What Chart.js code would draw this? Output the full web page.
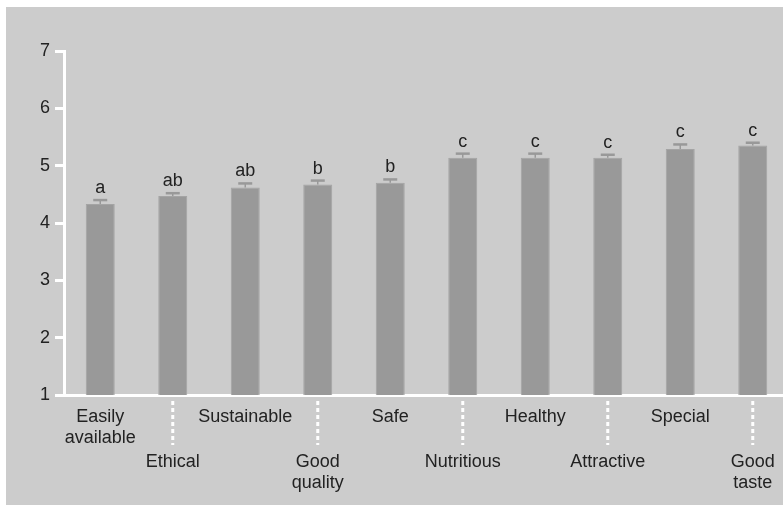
<!DOCTYPE html>
<html>
<head>
<meta charset="utf-8">
<script src="https://cdn.jsdelivr.net/npm/chart.js@4"></script>
<style>
  html, body { margin: 0; padding: 0; background: #fff; overflow: hidden; width: 783px; height: 505px; }
  #chart { position: absolute; left: 6px; top: 7px; background: #cccccc; }
</style>
</head>
<body>
<canvas id="chart" width="785" height="498"></canvas>
<script>
// attribute categories (two lines where the label wraps)
var categories = [
    ['Easily', 'available'], ['Ethical'], ['Sustainable'], ['Good', 'quality'], ['Safe'],
    ['Nutritious'], ['Healthy'], ['Attractive'], ['Special'], ['Good', 'taste']
];
var means  = [4.33, 4.47, 4.62, 4.67, 4.70, 5.14, 5.14, 5.14, 5.29, 5.35];
var errors = [0.07, 0.05, 0.07, 0.07, 0.06, 0.07, 0.07, 0.05, 0.08, 0.05];
var groups = ['a', 'ab', 'ab', 'b', 'b', 'c', 'c', 'c', 'c', 'c'];
var yTicks = [1, 2, 3, 4, 5, 6, 7];

var FONT = '"Liberation Sans", Arial, sans-serif';

// error bars, group letters, staggered x labels
var extras = {
    id: 'extras',
    afterDatasetsDraw: function(chart) {
        var ctx = chart.ctx;
        var x = chart.scales.x, y = chart.scales.y;
        ctx.save();
        for (var i = 0; i < means.length; i++) {
            var cx = x.getPixelForValue(i);
            var yTop = y.getPixelForValue(means[i] + errors[i]);
            var yBar = y.getPixelForValue(means[i]);
            ctx.strokeStyle = '#999999';
            ctx.lineWidth = 1.5;
            ctx.beginPath();
            ctx.moveTo(cx, yBar);
            ctx.lineTo(cx, yTop);
            ctx.stroke();
            ctx.lineWidth = 2.5;
            ctx.beginPath();
            ctx.moveTo(cx - 7, yTop);
            ctx.lineTo(cx + 7, yTop);
            ctx.stroke();

            ctx.fillStyle = '#222';
            ctx.font = '18px ' + FONT;
            ctx.textAlign = 'center';
            ctx.textBaseline = 'alphabetic';
            ctx.fillText(groups[i], cx, yTop - 7);

            // labels: even index upper row, odd index lower row with dotted leader
            var lines = categories[i];
            var base = (i % 2 === 0) ? 410 : 455;
            ctx.textBaseline = 'middle';
            for (var k = 0; k < lines.length; k++) {
                ctx.fillText(lines[k], cx, base + k * 21);
            }
            if (i % 2 === 1) {
                ctx.strokeStyle = '#ffffff';
                ctx.lineWidth = 3;
                ctx.setLineDash([4, 3]);
                ctx.beginPath();
                ctx.moveTo(cx, 394);
                ctx.lineTo(cx, 438);
                ctx.stroke();
                ctx.setLineDash([]);
            }
        }
        ctx.restore();
    }
};

new Chart(document.getElementById('chart'), {
    type: 'bar',
    data: {
        labels: categories,
        datasets: [{
            data: means,
            backgroundColor: '#999999',
            borderColor: '#a4a4a4',
            borderWidth: 1,
            barPercentage: 0.4,
            categoryPercentage: 1
        }]
    },
    options: {
        responsive: false,
        animation: false,
        layout: { padding: { top: 44, bottom: 102, right: 2, left: 0 } },
        plugins: { legend: { display: false }, tooltip: { enabled: false } },
        scales: {
            x: {
                ticks: { display: false },
                grid: { display: false },
                border: { color: '#ffffff', width: 3 }
            },
            y: {
                min: 1,
                max: 7,
                afterBuildTicks: function(scale) {
                    scale.ticks = yTicks.map(function(v) { return { value: v }; });
                },
                afterFit: function(scale) { scale.width = 58; },
                ticks: { color: '#222', font: { size: 18, family: FONT }, padding: 5 },
                grid: { drawOnChartArea: false, drawTicks: true, tickLength: 9, color: '#ffffff', lineWidth: 3 },
                border: { color: '#ffffff', width: 3 }
            }
        }
    },
    plugins: [extras]
});
</script>
</body>
</html>
